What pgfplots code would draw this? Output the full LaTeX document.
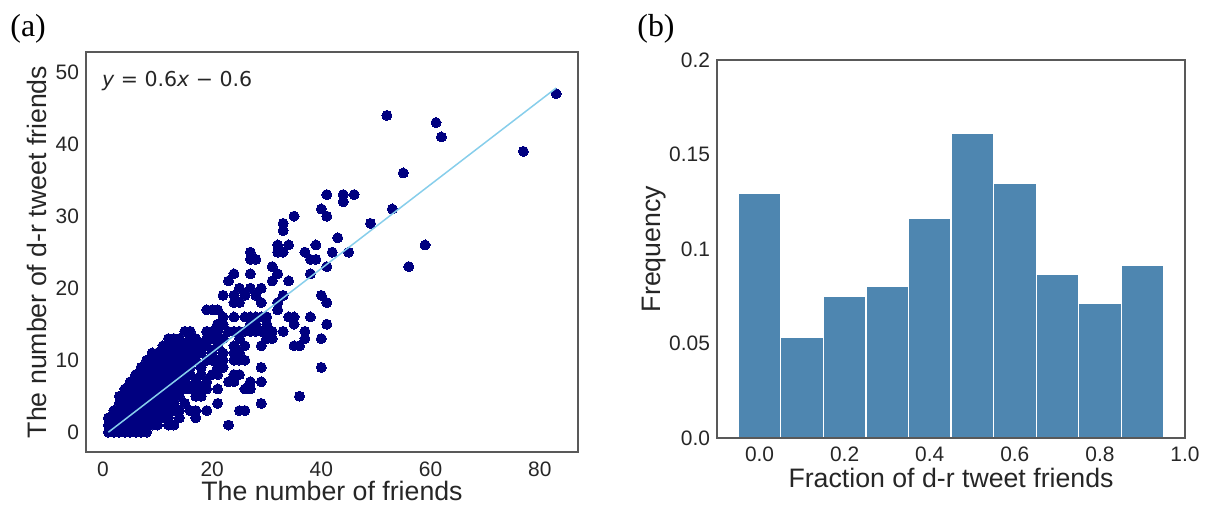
\documentclass[border=0pt]{standalone}
\usepackage{pgfplots}
\pgfplotsset{compat=1.18}
\usepackage{pgfplotstable}
\usepackage{fontspec}
\setmainfont{Liberation Sans}
\newfontfamily\serifpanel{Liberation Serif}
\newfontfamily\dejavu{DejaVu Sans}
\definecolor{dotnavy}{RGB}{0,0,128}
\definecolor{fitline}{RGB}{135,206,235}
\definecolor{barblue}{RGB}{78,134,176}
\definecolor{txt}{RGB}{38,38,38}

\pgfplotstableread{
x y
1 0
2 0
3 0
4 0
5 0
6 0
7 0
8 0
1 1
2 1
3 1
4 1
5 1
6 1
7 1
8 1
9 1
10 1
12 1
13 1
23 1
1 2
2 2
3 2
4 2
5 2
6 2
7 2
8 2
9 2
10 2
11 2
12 2
14 2
17 2
2 3
3 3
4 3
5 3
6 3
7 3
8 3
9 3
10 3
11 3
12 3
13 3
14 3
16 3
17 3
19 3
25 3
26 3
3 4
4 4
5 4
6 4
7 4
8 4
9 4
10 4
11 4
12 4
13 4
15 4
21 4
29 4
3 5
4 5
5 5
6 5
7 5
8 5
9 5
10 5
11 5
12 5
13 5
14 5
17 5
18 5
36 5
4 6
5 6
6 6
7 6
8 6
9 6
10 6
11 6
12 6
13 6
14 6
15 6
16 6
17 6
18 6
19 6
21 6
26 6
27 6
5 7
6 7
7 7
8 7
9 7
10 7
11 7
12 7
13 7
14 7
15 7
17 7
19 7
23 7
24 7
27 7
29 7
6 8
7 8
8 8
9 8
10 8
11 8
12 8
13 8
14 8
15 8
16 8
18 8
20 8
21 8
24 8
25 8
7 9
8 9
9 9
10 9
11 9
12 9
13 9
14 9
15 9
16 9
18 9
21 9
22 9
29 9
40 9
8 10
9 10
10 10
11 10
12 10
13 10
14 10
15 10
16 10
17 10
19 10
20 10
21 10
22 10
24 10
25 10
26 10
9 11
10 11
11 11
12 11
13 11
14 11
15 11
16 11
17 11
18 11
20 11
22 11
24 11
25 11
11 12
12 12
13 12
14 12
15 12
16 12
17 12
18 12
19 12
21 12
24 12
26 12
29 12
35 12
36 12
12 13
13 13
14 13
16 13
17 13
19 13
20 13
21 13
22 13
25 13
30 13
31 13
37 13
40 13
15 14
16 14
19 14
20 14
21 14
23 14
24 14
25 14
26 14
27 14
28 14
29 14
30 14
31 14
33 14
37 14
21 15
22 15
27 15
28 15
30 15
35 15
41 15
22 16
24 16
26 16
27 16
28 16
29 16
30 16
34 16
35 16
38 16
19 17
20 17
21 17
32 17
24 18
25 18
29 18
32 18
41 18
22 19
24 19
26 19
28 19
33 19
40 19
25 20
27 20
29 20
23 21
31 21
34 21
24 22
27 22
32 22
38 22
31 23
41 23
56 23
27 24
28 24
38 24
39 24
27 25
32 25
33 25
37 25
42 25
45 25
32 26
34 26
39 26
59 26
43 27
33 28
33 29
49 29
35 30
41 30
40 31
53 31
44 32
41 33
44 33
46 33
55 36
77 39
62 41
61 43
52 44
83 47
}\scatterdata

\pgfplotsset{
  common/.style={
    scale only axis,
    axis line style={black!65, line width=0.6bp},
    tick style={draw=none},
    major tick length=0pt,
    tick label style={font=\fontsize{10.5}{12}\selectfont, text=txt},
    label style={font=\fontsize{13.4}{15}\selectfont, text=txt},
    /pgf/number format/assume math mode=true,
  }
}

\begin{document}
\begin{tikzpicture}
\useasboundingbox (0bp,0bp) rectangle (603bp,-255bp);

\begin{axis}[common, clip marker paths=true,
  at={(43bp,-226bp)}, anchor=south west,
  width=246bp, height=200bp,
  xmin=-3.1, xmax=87.0, ymin=-2.75, ymax=52.8,
  xtick={0,20,40,60,80}, ytick={0,10,20,30,40,50},
  xticklabel style={yshift=-1.5bp},
  xlabel={The number of friends},
  ylabel={The number of d-r tweet friends},
  xlabel style={at={([yshift=-11bp]axis description cs:0.5,0)}, anchor=north},
  ylabel style={at={([xshift=-16bp]axis description cs:0,0.5)}, anchor=south},
]
\addplot[only marks, mark=*, mark size=2.5bp,
  mark options={fill=dotnavy, draw=dotnavy, line width=0pt}] table[x=x, y=y] {\scatterdata};
\addplot[fitline, line width=0.75bp] coordinates {(1,0) (83,47.8)};
\node[anchor=base west, inner sep=0, text=txt, font=\dejavu\fontsize{10.3}{12}\selectfont]
  at (rel axis cs:0.032,0.9133) {{\itshape y} = 0.6{\itshape x} − 0.6};
\end{axis}

\begin{axis}[common, axis on top,
  at={(358.5bp,-219bp)}, anchor=south west,
  width=234bp, height=189bp,
  xmin=-0.1, xmax=1.0, ymin=0, ymax=0.2,
  xtick={0,0.2,0.4,0.6,0.8,1.0}, xticklabels={0.0,0.2,0.4,0.6,0.8,1.0},
  ytick={0,0.05,0.1,0.15,0.2}, yticklabels={0.0,0.05,0.1,0.15,0.2},
  xticklabel style={yshift=-1bp},
  xlabel={Fraction of d-r tweet friends},
  ylabel={Frequency},
  xlabel style={at={([yshift=-11.5bp]axis description cs:0.5,0)}, anchor=north},
  ylabel style={at={([xshift=-22bp]axis description cs:0,0.5)}, anchor=south},
]
\addplot[ybar interval, fill=barblue, draw=white, line width=0.6bp] coordinates {
  (-0.05,0.1296) (0.05,0.0531) (0.15,0.0748) (0.25,0.0801) (0.35,0.1164)
  (0.45,0.1614) (0.55,0.1347) (0.65,0.0864) (0.75,0.0714) (0.85,0.0914) (0.95,0.0914)};
\end{axis}

\node[anchor=base west, inner sep=0, font=\serifpanel\fontsize{16}{19}\selectfont] at (5bp,-18.4bp) {(a)};
\node[anchor=base west, inner sep=0, font=\serifpanel\fontsize{16}{19}\selectfont] at (318.5bp,-18.4bp) {(b)};
\end{tikzpicture}
\end{document}
